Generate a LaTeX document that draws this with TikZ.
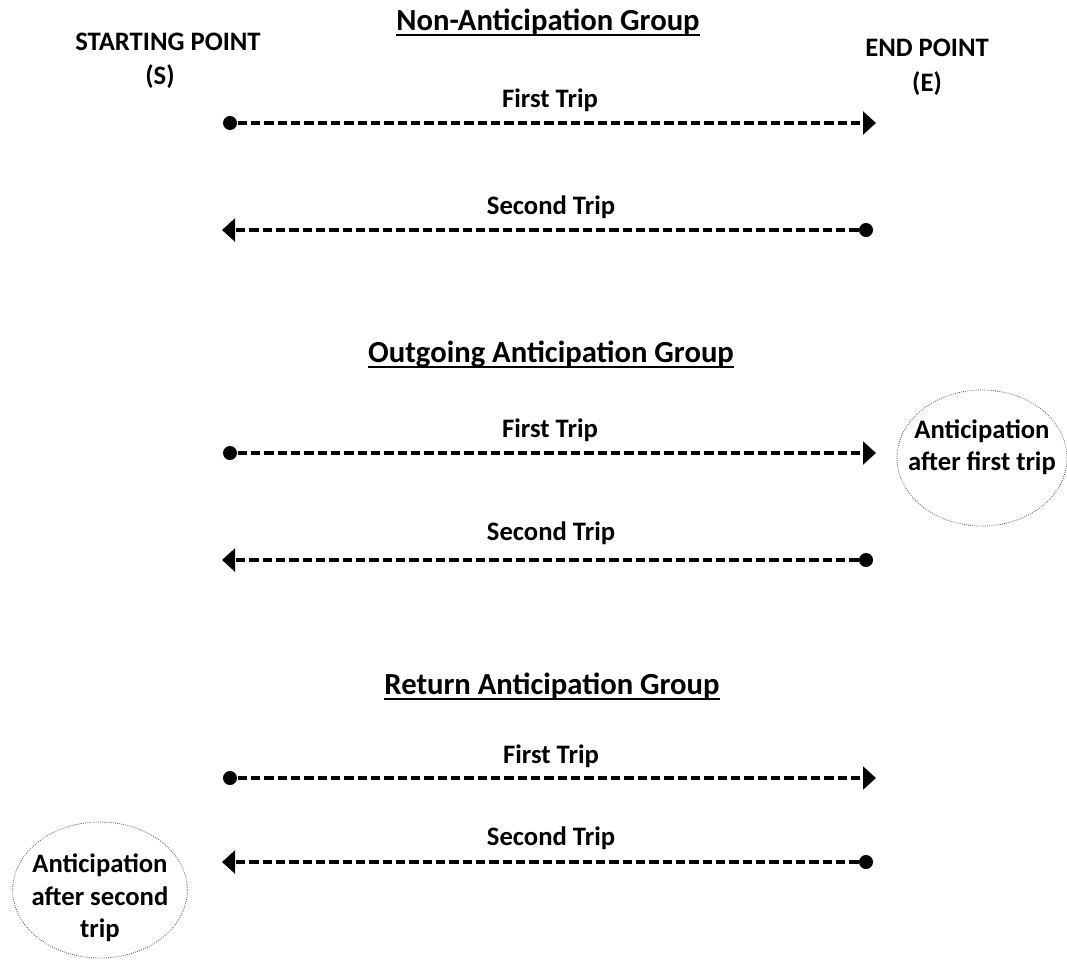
\documentclass[tikz,border=0pt]{standalone}
\usepackage{fontspec}
\setmainfont{Carlito}
\usetikzlibrary{arrows.meta,shapes.geometric}

\tikzset{every picture/.style={line width=0.75pt}}
\tikzset{
    lbl/.style={font=\bfseries\fontsize{20}{24.5}\selectfont, inner sep=0pt, align=center},
    grp/.style={font=\bfseries\fontsize{23}{27}\selectfont, inner sep=0pt},
    dot/.style={circle, fill=black, inner sep=0pt, minimum size=10.5pt},
    trip/.style={line width=2.6pt, dash pattern=on 7pt off 3pt, -{Triangle[length=9.75pt,width=17pt]}},
    antic/.style={ellipse, draw=black!70, densely dotted, line width=0.6pt, inner sep=0pt},
    uline/.style={line width=1.2pt}
}

\begin{document}
\begin{tikzpicture}[x=0.75pt,y=0.75pt,yscale=-1,xscale=1]
    \useasboundingbox (0,0) rectangle (1067,960);
    
    % headings
    \node (start) [lbl] at (168,42) {STARTING POINT};
    \node (startS) [lbl] at (160,77) {(S)};
    \node (endpt) [lbl] at (927,48) {END POINT};
    \node (endE) [lbl] at (927,84) {(E)};
    
    \node (grpNon) [grp] at (548,22) {Non-Anticipation Group};
    \node (grpOut) [grp] at (551,354) {Outgoing Anticipation Group};
    \node (grpRet) [grp] at (552,686) {Return Anticipation Group};
    \foreach \g in {grpNon,grpOut,grpRet}
        \draw [uline] ([yshift=3.5pt]\g.base west) -- ([yshift=3.5pt]\g.base east);
    
    % Non-Anticipation Group
    \node (firstA) [lbl] at (550,100) {First Trip};
    \node (dotA) [dot] at (230,123) {};
    \coordinate (tipA) at (876,123);
    \draw [trip] (dotA) -- (tipA);
    
    \node (secondA) [lbl] at (551,207) {Second Trip};
    \node (dotB) [dot] at (866,230) {};
    \coordinate (tipB) at (222,230);
    \draw [trip] (dotB) -- (tipB);
    
    % Outgoing Anticipation Group
    \node (firstB) [lbl] at (550,430) {First Trip};
    \node (dotC) [dot] at (230,453) {};
    \coordinate (tipC) at (876,453);
    \draw [trip] (dotC) -- (tipC);
    
    \node (secondB) [lbl] at (551,533) {Second Trip};
    \node (dotD) [dot] at (866,560) {};
    \coordinate (tipD) at (222,560);
    \draw [trip] (dotD) -- (tipD);
    
    \node (anticOut) [antic, minimum width=127.5pt, minimum height=102pt,
        label={[lbl, yshift=8pt]center:Anticipation\\after first trip}] at (982,458) {};
    
    % Return Anticipation Group
    \node (firstC) [lbl] at (551,756) {First Trip};
    \node (dotE) [dot] at (230,778) {};
    \coordinate (tipE) at (876,778);
    \draw [trip] (dotE) -- (tipE);
    
    \node (secondC) [lbl] at (551,838) {Second Trip};
    \node (dotF) [dot] at (866,862) {};
    \coordinate (tipF) at (222,862);
    \draw [trip] (dotF) -- (tipF);
    
    \node (anticRet) [antic, minimum width=131pt, minimum height=102pt,
        label={[lbl, yshift=-6pt]center:Anticipation\\after second\\trip}] at (100,890) {};
\end{tikzpicture}
\end{document}
